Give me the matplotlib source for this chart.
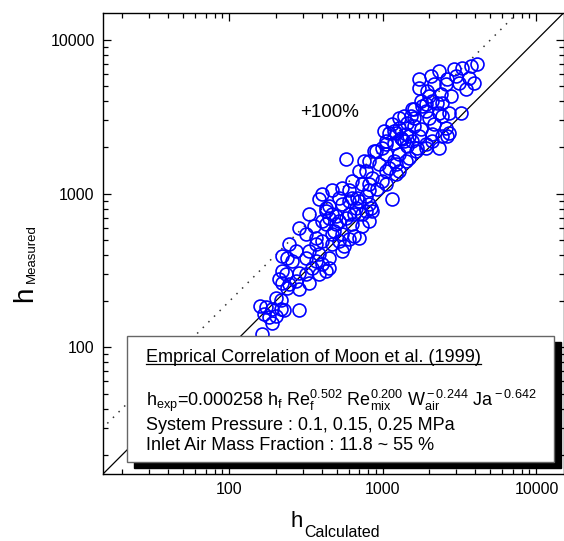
import matplotlib
matplotlib.use('Agg')
import matplotlib.pyplot as plt
from matplotlib.patches import Rectangle
from matplotlib.lines import Line2D
from matplotlib.ticker import LogLocator, NullFormatter

plt.rcParams['font.family'] = ['Liberation Sans', 'DejaVu Sans']
plt.rcParams['mathtext.fontset'] = 'custom'
plt.rcParams['mathtext.rm'] = 'Liberation Sans'
plt.rcParams['mathtext.it'] = 'Liberation Sans:italic'
plt.rcParams['mathtext.bf'] = 'Liberation Sans:bold'

# calculated vs measured heat transfer coefficient
h_calc = [4080, 3730, 3260, 2890, 3620, 2980, 3110, 3900, 2600, 1710,
          2050, 1710, 2140, 2560, 3460, 1990, 2380, 2760, 1760, 2080,
          2420, 1540, 1790, 1900, 2310, 2680, 3210, 1370, 1590, 1990,
          2420, 1140, 1270, 1430, 1760, 2140, 2560, 1180, 1480, 1710,
          2080, 2600, 1050, 1180, 1430, 1660, 985, 1210, 1410, 2080,
          2420, 2680, 1640, 1900, 1050, 1270, 1480, 942, 1090, 1270,
          776, 849, 985, 731, 811, 602, 629, 518, 542, 699,
          811, 402, 426, 467, 575, 731, 849, 402, 495, 629,
          731, 1210, 1050, 914, 575, 1140, 384, 602, 678, 776,
          495, 648, 836, 331, 285, 316, 367, 426, 542, 811,
          245, 272, 238, 256, 331, 367, 402, 467, 518, 602,
          316, 367, 402, 426, 221, 211, 245, 285, 316, 331,
          384, 446, 542, 221, 221, 238, 202, 218, 157, 174,
          190, 218, 169, 182, 202, 228, 164, 285, 190, 285,
          874, 753, 1180, 1370, 1015, 1590, 1930, 2310, 481, 558,
          648, 356, 446,
          1590, 1900, 2240, 1270, 1520, 1090, 1310, 1540, 1900, 2310,
          1330, 1050, 901, 811, 699, 629, 542, 467, 1050, 1210,
          1410, 811, 668, 602, 518, 446, 426, 467, 384, 446,
          346, 234, 272, 699, 776]
h_meas = [6990, 6780, 6580, 6480, 5660, 5840, 5260, 5260, 5580, 5580,
          5840, 4880, 5180, 5180, 4810, 4330, 4460, 4330, 4020, 4020,
          3900, 3560, 3730, 3460, 3360, 3360, 3360, 3210, 3110, 3110,
          3210, 2850, 2680, 2890, 2640, 2850, 2680, 2560, 2380, 2380,
          2210, 2380, 2210, 2140, 2050, 1990, 1990, 2490, 2450, 2450,
          2380, 2490, 1900, 1990, 1820, 1820, 1710, 1570, 1480, 1410,
          1410, 1270, 1210, 1160, 1050, 1050, 942, 942, 861, 901,
          861, 1000, 811, 742, 699, 742, 776, 668, 639, 639,
          620, 1350, 1160, 1080, 1690, 928, 928, 901, 942, 970,
          720, 742, 811, 742, 602, 550, 518, 639, 550, 668,
          473, 426, 384, 367, 426, 473, 495, 473, 495, 510,
          384, 367, 351, 316, 316, 280, 260, 307, 302, 264,
          302, 384, 426, 396, 264, 245, 211, 202, 187, 182,
          179, 179, 166, 157, 161, 174, 123, 176, 145, 241,
          1900, 1640, 1640, 2210, 2560, 2760, 4670, 6290, 575, 458,
          530, 620, 836,
          3560, 3840, 3900, 3110, 3210, 2490, 2310, 2210, 2110, 1990,
          2280, 2110, 1900, 1640, 1410, 1210, 1090, 1050, 1410, 1570,
          1640, 1160, 811, 742, 668, 699, 776, 550, 408, 331,
          331, 302, 272, 518, 776]

axis_range = [15, 15000]
major_ticks = [100, 1000, 10000]
tick_labels = ['100', '1000', '10000']

W, H = 564, 541
fig = plt.figure(figsize=(W / 100, H / 100), dpi=100)
ax = fig.add_axes([103 / W, 67 / H, 460.5 / W, 461 / H])
ax.set_xscale('log')
ax.set_yscale('log')

# 1:1 line and +100% line
ax.plot(axis_range, axis_range, color='black', lw=0.9, zorder=2)
ax.plot([axis_range[0] / 2, axis_range[1]], [axis_range[0], axis_range[1] * 2],
        color='#333333', lw=1.1, ls=(0, (1, 4.2)), zorder=2)

ax.plot(h_calc, h_meas, 'o', ms=9.3, mfc='none', mec='#0000ff', mew=1.2, zorder=3)

for axis in (ax.xaxis, ax.yaxis):
    axis.set_minor_locator(LogLocator(base=10, subs=range(2, 10), numticks=20))
    axis.set_minor_formatter(NullFormatter())
ax.set_xticks(major_ticks, tick_labels)
ax.set_yticks(major_ticks, tick_labels)
ax.set_xlim(axis_range)
ax.set_ylim(axis_range)
ax.tick_params(which='both', direction='in', top=True, right=True, width=0.9,
               labelsize=11.5, pad=6)
ax.tick_params(which='major', length=5.8)
ax.tick_params(which='minor', length=3.6)
for s in ax.spines.values():
    s.set_linewidth(1.0)

ax.text(446, 3360, '+100%', fontsize=13.5, ha='center', va='center')

# info box with shadow
bx, by, bw, bh = 0.0521, 0.026, 0.9273, 0.2733
ax.add_patch(Rectangle((bx + 0.015, by - 0.013), bw, bh, transform=ax.transAxes,
                       fc='black', ec='black', lw=1, zorder=4, clip_on=False))
ax.add_patch(Rectangle((bx, by), bw, bh, transform=ax.transAxes,
                       fc='white', ec='#666666', lw=1, zorder=5, clip_on=False))

title = ax.text(0.0934, 0.243, 'Emprical Correlation of Moon et al. (1999)',
                fontsize=13, transform=ax.transAxes, va='baseline', zorder=6)
ax.text(0.0934, 0.1475,
        r'h$_{\rm exp}$=0.000258 h$_{\rm f}$ Re$_{\rm f}^{\rm 0.502}$ '
        r'Re$_{\rm mix}^{\rm 0.200}$ W$_{\rm air}^{\rm -0.244}$ Ja$^{\rm -0.642}$',
        fontsize=13, transform=ax.transAxes, va='baseline', zorder=6)
ax.text(0.0934, 0.0954, 'System Pressure : 0.1, 0.15, 0.25 MPa',
        fontsize=13, transform=ax.transAxes, va='baseline', zorder=6)
ax.text(0.0934, 0.052, 'Inlet Air Mass Fraction : 11.8 ~ 55 %',
        fontsize=13, transform=ax.transAxes, va='baseline', zorder=6)

# axis labels
fig.text(290 / W, 1 - 527 / H, 'h', fontsize=16, ha='left', va='baseline')
fig.text(304 / W, 1 - 537 / H, 'Calculated', fontsize=11.5, ha='left', va='baseline')
fig.text(32 / W, 1 - 302 / H, 'h', fontsize=20, rotation=90,
         rotation_mode='anchor', ha='left', va='baseline')
fig.text(35 / W, 1 - 283 / H, 'Measured', fontsize=9.5, rotation=90,
         rotation_mode='anchor', ha='left', va='baseline')

# underline the box title
fig.canvas.draw()
bb = title.get_window_extent()
base_y = ax.transAxes.transform((0, 0.243))[1] - 2.5
inv = fig.transFigure.inverted()
(x0, y0), (x1, _) = inv.transform([(bb.x0, base_y), (bb.x1, base_y)])
fig.add_artist(Line2D([x0, x1], [y0, y0], color='black', lw=0.9, zorder=7))

fig.savefig('out.png', dpi=100)
